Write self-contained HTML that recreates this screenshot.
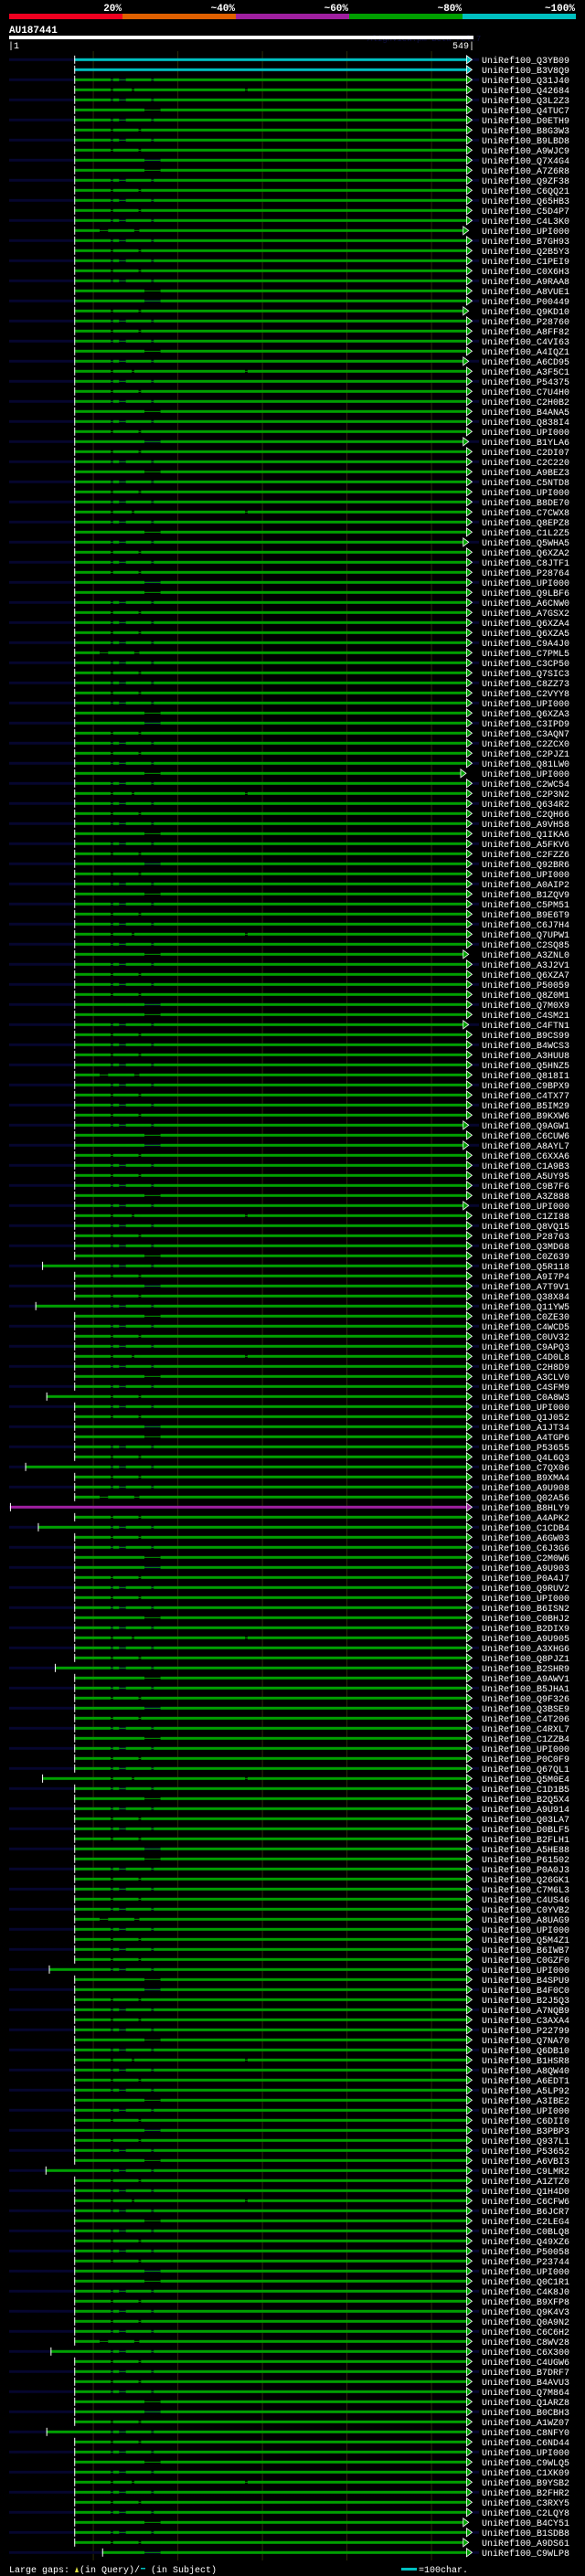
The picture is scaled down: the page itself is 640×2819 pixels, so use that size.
<!DOCTYPE html>
<html><head><meta charset="utf-8"><style>
html,body{margin:0;padding:0;background:#000;}
svg{display:block;}
text{font-family:"Liberation Mono",monospace;}
</style></head><body>
<svg id="chart" width="640" height="2819" xmlns="http://www.w3.org/2000/svg">
<rect x="0" y="0" width="640" height="2819" fill="#000"/>
<g>
<rect x="10" y="15" width="124" height="6" fill="#f00020"/>
<rect x="134" y="15" width="124" height="6" fill="#e06000"/>
<rect x="258" y="15" width="124" height="6" fill="#a020a0"/>
<rect x="382" y="15" width="124" height="6" fill="#00a000"/>
<rect x="506" y="15" width="124" height="6" fill="#00c0c0"/>
<text x="133" y="12" fill="#fff" font-size="11" font-weight="bold" text-anchor="end">20%</text>
<text x="257" y="12" fill="#fff" font-size="11" font-weight="bold" text-anchor="end">~40%</text>
<text x="381" y="12" fill="#fff" font-size="11" font-weight="bold" text-anchor="end">~60%</text>
<text x="505" y="12" fill="#fff" font-size="11" font-weight="bold" text-anchor="end">~80%</text>
<text x="629" y="12" fill="#fff" font-size="11" font-weight="bold" text-anchor="end">~100%</text>
</g>
<text x="10" y="36" fill="#fff" font-size="11" font-weight="bold">AU187441</text>
<text x="402" y="45" fill="#101040" font-size="9">AlignView.pm Beta rel.7</text>
<rect x="10" y="39" width="508" height="4" fill="#fff"/>
<text x="9" y="53" fill="#fff" font-size="10">|1</text>
<text x="519" y="53" fill="#fff" font-size="10" text-anchor="end">549|</text>
<g id="grid"></g>
<g id="rows"></g>
<g>
<text x="10" y="2815" fill="#fff" font-size="10">Large gaps:</text>
<polygon points="82,2815 84,2809 86,2815" fill="#e0e040"/>
<text x="87" y="2815" fill="#fff" font-size="10">(in Query)/</text>
<rect x="154" y="2810" width="5" height="1.5" fill="#00c0c0"/>
<text x="165" y="2815" fill="#fff" font-size="10">(in Subject)</text>
<rect x="439" y="2810" width="17" height="3" fill="#00c0c0"/>
<text x="458" y="2815" fill="#fff" font-size="10">=100char.</text>
</g>
</svg>
<script>
const names = ["Q3YB09","B3V8Q9","Q31J40","Q42684","Q3L2Z3","Q4TUC7","D0ETH9","B8G3W3","B9LBD8","A9WJC9","Q7X4G4","A7Z6R8","Q9ZF38","C6QQ21","Q65HB3","C5D4P7","C4L3K0","UPI000","B7GH93","Q2B5Y3","C1PEI9","C0X6H3","A9RAA8","A8VUE1","P00449","Q9KD10","P28760","A8FF82","C4VI63","A4IQZ1","A6CD95","A3F5C1","P54375","C7U4H0","C2H0B2","B4ANA5","Q838I4","UPI000","B1YLA6","C2DI07","C2C220","A9BEZ3","C5NTD8","UPI000","B8DE70","C7CWX8","Q8EPZ8","C1L2Z5","Q5WHA5",
"Q6XZA2","C8JTF1","P28764","UPI000","Q9LBF6","A6CNW0","A7GSX2","Q6XZA4","Q6XZA5","C9A4J0","C7PML5","C3CP50","Q7SIC3","C8ZZ73","C2VYY8","UPI000","Q6XZA3","C3IPD9","C3AQN7","C2ZCX0","C2PJZ1","Q81LW0","UPI000","C2WC54","C2P3N2","Q634R2","C2QH66","A9VH58","Q1IKA6","A5FKV6","C2FZZ6","Q92BR6","UPI000","A0AIP2","B1ZQV9","C5PM51","B9E6T9","C6J7H4","Q7UPW1","C2SQ85","A3ZNL0","A3J2V1","Q6XZA7","P50059","Q8Z0M1","Q7M0X9","C4SM21","C4FTN1","B9CS99","B4WCS3",
"A3HUU8","Q5HNZ5","Q818I1","C9BPX9","C4TX77","B5IM29","B9KXW6","Q9AGW1","C6CUW6","A8AYL7","C6XXA6","C1A9B3","A5UY95","C9B7F6","A3Z888","UPI000","C1ZI88","Q8VQ15","P28763","Q3MD68","C0Z639","Q5R118","A9I7P4","A7T9V1","Q38X84","Q11YW5","C0ZE30","C4WCD5","C0UV32","C9APQ3","C4D0L8","C2H8D9","A3CLV0","C4SFM9","C0A8W3","UPI000","Q1J052","A1JT34","A4TGP6","P53655","Q4L6Q3","C7QX06","B9XMA4","A9U908","Q02A56","B8HLY9","A4APK2","C1CDB4","A6GW03","C6J3G6",
"C2M0W6","A9U903","P0A4J7","Q9RUV2","UPI000","B6ISN2","C0BHJ2","B2DIX9","A9U905","A3XHG6","Q8PJZ1","B2SHR9","A9AWV1","B5JHA1","Q9F326","Q3BSE9","C4T206","C4RXL7","C1ZZB4","UPI000","P0C0F9","Q67QL1","Q5M0E4","C1D1B5","B2Q5X4","A9U914","Q03LA7","D0BLF5","B2FLH1","A5HE88","P61502","P0A0J3","Q26GK1","C7M6L3","C4US46","C0YVB2","A8UAG9","UPI000","Q5M4Z1","B6IWB7","C0GZF0","UPI000","B4SPU9","B4F0C0","B2J5Q3","A7NQB9","C3AXA4","P22799","Q7NA70","Q6DB10",
"B1HSR8","A8QW40","A6EDT1","A5LP92","A3IBE2","UPI000","C6DII0","B3PBP3","Q937L1","P53652","A6VBI3","C9LMR2","A1ZTZ0","Q1H4D0","C6CFW6","B6JCR7","C2LEG4","C0BLQ8","Q49XZ6","P50058","P23744","UPI000","Q0C1R1","C4K8J0","B9XFP8","Q9K4V3","Q0A9N2","C6C6H2","C8WV28","C6X300","C4UGW6","B7DRF7","B4AVU3","Q7M864","Q1ARZ8","B0CBH3","A1WZ07","C8NFY0","C6ND44","UPI000","C9WLQ5","C1XK09","B9YSB2","B2FHR2","C3RXY5",
"C2LQY8","B4CY51","B1SDB8","A9DS61","C9WLP8"];
// subject start in query coords (most 78)
const startExceptions = [[120,40],[124,32],[133,45],[140,20],[144,2],[146,35],[160,55],[171,40],[190,48],[210,44],[228,50],[236,45],[248,111]];
const endExceptions = [[17,538],[25,538],[30,538],[38,538],[48,538],[71,535],[89,538],[96,538],[106,538],[108,538],[114,538],[245,538],[247,538]];
const colorClass = [["cyan",0],["cyan",1],["magenta",144]];
const gapPatterns = [[[121,124],[131,139],[169,172]],[[121,124],[154,157]],[[161,180]],[[121,124],[146,149],[280,283]],[[108,118],[149,155]]];
const rowPattern = [0,1,0,1,0,2];

const LEFT=10, PXC=0.925, ROW0=65.3, ROWH=11.0;
const xs = q => LEFT + (q-1)*PXC;
const ys = i => ROW0 + i*ROWH;
const NS="http://www.w3.org/2000/svg";
const grid=document.getElementById('grid');
[100,200,300,400,500].forEach(q=>{
  const l=document.createElementNS(NS,'rect');
  
  
  l.setAttribute('x',xs(q)); l.setAttribute('y',56); l.setAttribute('width',1); l.setAttribute('height',2746);
  l.setAttribute('fill','#2c2c08'); grid.appendChild(l);
});
const rows=document.getElementById('rows');
const sMap=new Map(startExceptions), eMap=new Map(endExceptions);
const cMap=new Map(colorClass.map(a=>[a[1],a[0]]));
const colors={green:'#00a000',cyan:'#00c0c0',magenta:'#a020a0'};
names.forEach((n,i)=>{
  const y=ys(i);
  const g=document.createElementNS(NS,'g');
  
  
  let h='';
  if(i%2===0) h+=`<rect x="10" y="${y-1.5}" width="514" height="3" fill="#06062e"/>`;
  const s=sMap.has(i)?sMap.get(i):78, e=eMap.has(i)?eMap.get(i):542;
  const col=colors[cMap.get(i)||'green'];
  const gaps=(i<2||i===144)?[]:gapPatterns[rowPattern[i%rowPattern.length]+(i%7===3?2:0)] || gapPatterns[0];
  let cur=s;
  gaps.forEach(gp=>{ if(gp[0]>cur){h+=`<rect x="${xs(cur)}" y="${y-1.5}" width="${xs(gp[0])-xs(cur)}" height="3" fill="${col}"/>`;
    h+=`<rect x="${xs(gp[0])}" y="${y-0.5}" width="${xs(gp[1])-xs(gp[0])}" height="1" fill="${col}"/>`; cur=gp[1];}});
  h+=`<rect x="${xs(cur)}" y="${y-1.5}" width="${xs(e)-xs(cur)}" height="3" fill="${col}"/>`;
  h+=`<rect x="${xs(s)}" y="${y-4.5}" width="1" height="9" fill="#fff"/>`;
  const ex=xs(e);
  h+=`<polygon points="${ex},${y-4.5} ${ex+6},${y} ${ex},${y+4.5}" fill="${col}" stroke="#fff" stroke-width="0.8"/>`;
  h+=`<text x="527" y="${y+3.8}" fill="#fff" font-size="10">UniRef100_${n}</text>`;
  g.innerHTML=h;
  rows.appendChild(g);
});
</script>
</body></html>
